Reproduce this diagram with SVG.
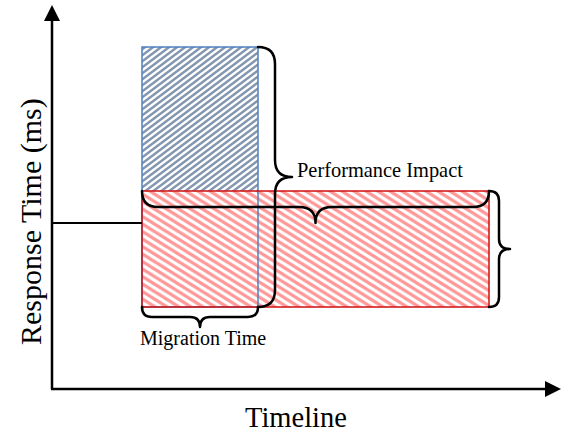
<svg xmlns="http://www.w3.org/2000/svg" width="576" height="441" viewBox="0 0 576 441">
<style>
.brace{fill:none;stroke:#000;stroke-width:2.5;stroke-linejoin:round;stroke-linecap:round}
.axis{stroke:#000;stroke-width:2.5;fill:none}
.lbl{font-family:"Liberation Serif","Times New Roman",serif;fill:#000}
</style>
<defs>
<pattern id="pBlue" width="8" height="6" patternUnits="userSpaceOnUse">
<rect x="0" y="0" width="8" height="6" fill="#fff"/>
<path d="M-8,12 L16,-6 M-8,6 L16,-12 M-8,18 L16,0" stroke="#8497b0" stroke-width="2.5" fill="none"/>
</pattern>
<pattern id="pRed" width="12" height="7.5" patternUnits="userSpaceOnUse">
<rect x="0" y="0" width="12" height="7.5" fill="#fff"/>
<path d="M-12,-7.5 L24,15 M-12,-15 L24,7.5 M-12,0 L24,22.5" stroke="#ff9999" stroke-width="3.3" fill="none"/>
</pattern>
<marker id="arr" viewBox="0 0 10 10" refX="0" refY="5" markerWidth="6.8" markerHeight="6.4" orient="auto" markerUnits="strokeWidth">
<path d="M0,0 L10,5 L0,10 Z" fill="#000"/>
</marker>
</defs>
<g id="axes">
<line class="axis" x1="52" y1="389" x2="52" y2="21" marker-end="url(#arr)"/>
<line class="axis" x1="51" y1="389" x2="545" y2="389" marker-end="url(#arr)"/>
</g>
<g id="blue-block">
<rect x="142" y="47" width="116" height="144" fill="url(#pBlue)"/>
</g>
<g id="red-block">
<rect x="142" y="191" width="347" height="116" fill="url(#pRed)"/>
</g>
<g id="outlines">
<rect x="142" y="47" width="116" height="260" fill="none" stroke="#4f81bd" stroke-width="1.5"/>
<rect x="142" y="191" width="347" height="116" fill="none" stroke="#d01010" stroke-width="1.5"/>
</g>
<g id="connectors">
<line x1="52" y1="223" x2="142" y2="223" stroke="#000" stroke-width="2"/>
<path class="brace" d="M258,47 Q275,47 275,64 L275,160 Q275,177 292,177 Q275,177 275,194 L275,290 Q275,307 258,307"/>
<path class="brace" d="M142,191 Q142,207 158,207 L299,207 Q315.5,207 315.5,223 Q315.5,207 332,207 L473,207 Q489,207 489,191"/>
<path class="brace" d="M489,191 Q499,191 499,201 L499,239 Q499,249 510,249 Q499,249 499,259 L499,297 Q499,307 489,307"/>
<path class="brace" d="M142,307 Q142,317 152,317 L190,317 Q200,317 200,327 Q200,317 210,317 L248,317 Q258,317 258,307"/>
</g>
<g id="labels">
<text class="lbl" x="297" y="177" font-size="20.4">Performance Impact</text>
<text class="lbl" x="140" y="345" font-size="20">Migration Time</text>
<text class="lbl" x="245" y="427" font-size="28.5">Timeline</text>
<text class="lbl" transform="translate(41,345) rotate(-90)" font-size="30">Response Time (ms)</text>
</g>
</svg>
